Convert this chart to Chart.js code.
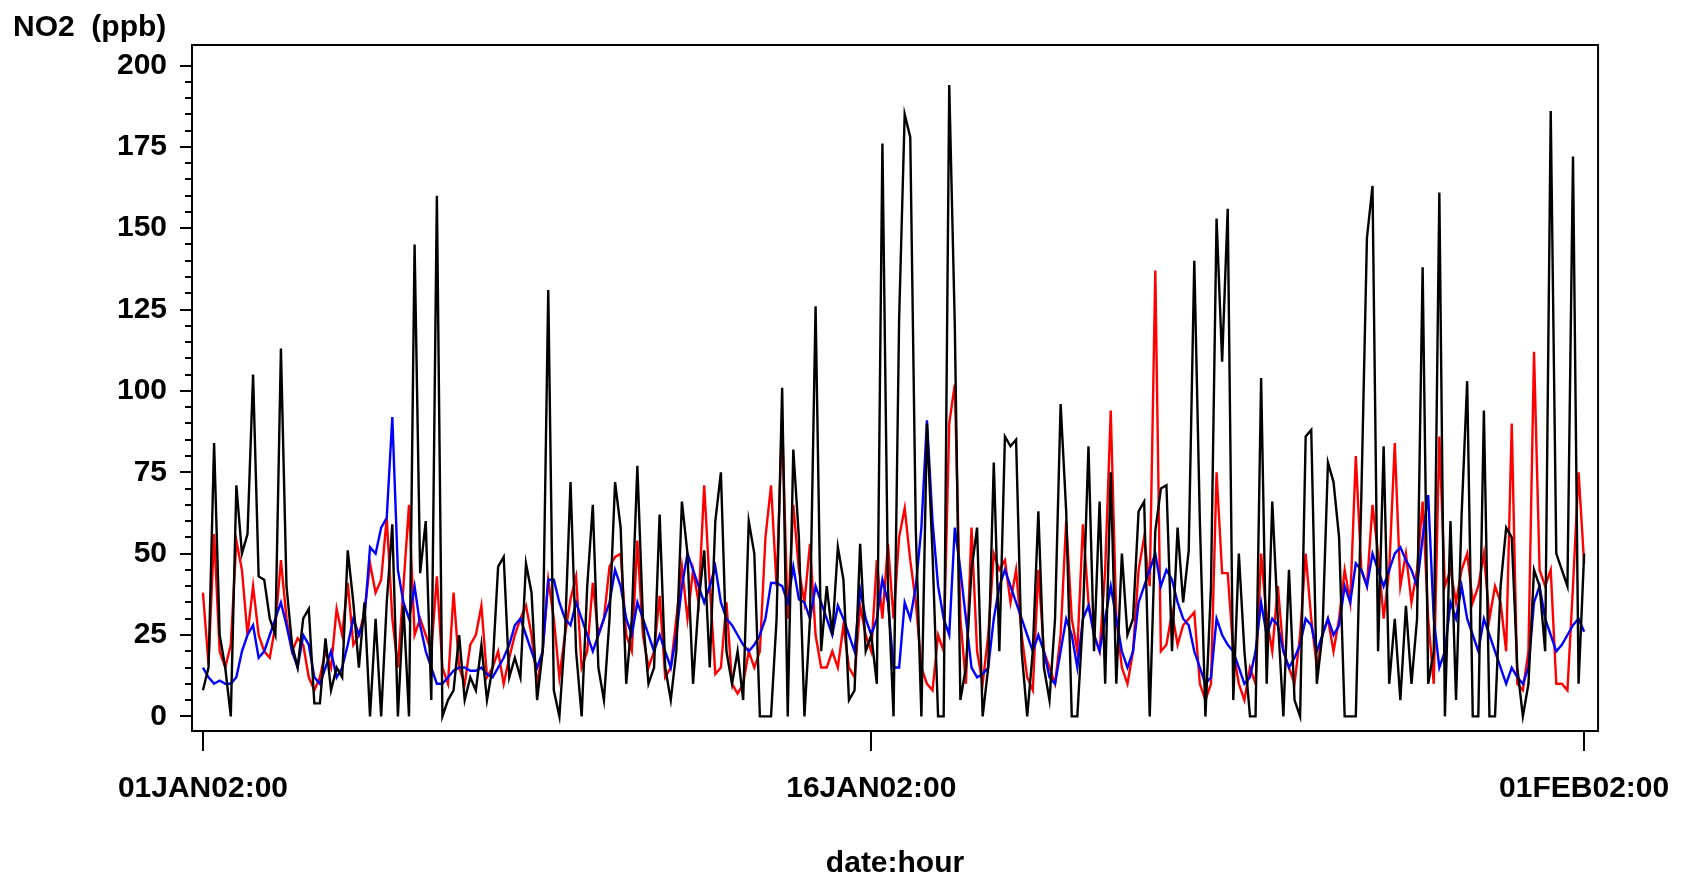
<!DOCTYPE html>
<html>
<head>
<meta charset="utf-8">
<script src="https://cdn.jsdelivr.net/npm/chart.js@4.4.1/dist/chart.umd.min.js"></script>
<style>
  html, body { margin: 0; padding: 0; background: #fff; }
  canvas { display: block; }
</style>
</head>
<body>
<canvas id="no2Chart" width="1690" height="880" style="width:1690px;height:880px"></canvas>
<script>
// hourly NO2, one value every 3 hours from 01JAN02:00
const stepHours = 3;

const blackSeries = [
  8, 15, 84, 25, 15, 0, 71, 50, 56, 105,
  43, 42, 30, 25, 113, 40, 22, 15, 30, 33,
  4, 4, 24, 8, 15, 12, 51, 35, 15, 35,
  0, 30, 0, 35, 59, 0, 34, 0, 145, 44,
  60, 5, 160, 0, 5, 8, 25, 5, 12, 8,
  22, 5, 15, 46, 49, 12, 18, 12, 47, 38,
  5, 20, 131, 8, 0, 25, 72, 20, 0, 40,
  65, 15, 5, 30, 72, 58, 10, 30, 77, 30,
  10, 15, 62, 15, 5, 20, 66, 50, 10, 35,
  51, 15, 60, 75, 20, 10, 20, 5, 60, 50,
  0, 0, 0, 30, 101, 0, 82, 55, 0, 30,
  126, 20, 40, 25, 52, 42, 5, 8, 53, 20,
  25, 10, 176, 40, 0, 122, 185, 178, 57, 0,
  90, 50, 0, 0, 194, 120, 5, 15, 45, 58,
  0, 15, 78, 20, 86, 83, 85, 20, 0, 20,
  63, 15, 5, 30, 96, 63, 0, 0, 30, 83,
  20, 66, 10, 75, 10, 50, 25, 30, 63, 66,
  0, 57, 70, 71, 20, 58, 35, 51, 140, 60,
  0, 40, 153, 109, 156, 5, 50, 20, 0, 0,
  104, 10, 66, 30, 0, 45, 5, 0, 86, 88,
  10, 25, 78, 72, 55, 0, 0, 0, 68, 147,
  163, 20, 83, 10, 30, 5, 34, 10, 30, 138,
  10, 20, 161, 0, 60, 5, 62, 103, 0, 0,
  94, 0, 0, 40, 58, 55, 15, 0, 10, 45,
  40, 20, 186, 50, 45, 40, 172, 10, 50
];

const blueSeries = [
  15, 12, 10, 11, 10, 10, 12, 20, 25, 28,
  18, 20, 25, 30, 35, 28, 20, 15, 25, 22,
  12, 10, 15, 20, 12, 15, 22, 30, 25, 30,
  52, 50, 58, 61, 92, 45, 35, 30, 40, 28,
  20, 15, 10, 10, 12, 14, 15, 15, 14, 14,
  15, 13, 12, 15, 18, 22, 28, 30, 25, 20,
  15, 20, 42, 42, 35, 30, 28, 35, 30, 25,
  20, 25, 30, 35, 45, 40, 30, 25, 35, 30,
  25, 20, 25, 20, 15, 25, 40, 50, 45, 40,
  35, 40, 46, 35, 30, 28, 25, 22, 20, 22,
  25, 30, 41, 41, 40, 35, 46, 36, 35, 30,
  40, 35, 30, 25, 34, 30, 25, 20, 39, 30,
  25, 30, 42, 35, 15, 15, 35, 30, 40, 58,
  91, 60, 40, 30, 25, 58, 45, 30, 15, 12,
  13, 15, 30, 40, 45, 40, 35, 30, 25, 20,
  25, 20, 12, 10, 20, 30, 25, 15, 30, 34,
  25, 20, 30, 40, 30, 20, 15, 20, 35, 40,
  45, 50, 40, 45, 42, 35, 30, 28, 20, 15,
  10, 12, 30, 25, 22, 20, 15, 10, 12, 20,
  35, 25, 30, 28, 20, 15, 18, 22, 30, 28,
  20, 25, 30, 25, 28, 40, 35, 47, 45, 40,
  50, 45, 40, 45, 50, 52, 48, 45, 40, 55,
  68, 30, 15, 20, 35, 30, 40, 30, 25, 20,
  30, 25, 20, 15, 10, 15, 12, 10, 15, 35,
  40, 30, 25, 20, 22, 25, 28, 30, 26
];

const redSeries = [
  38, 16, 56, 20, 15, 22, 54, 45, 25, 40,
  25, 20, 18, 28, 48, 30, 20, 24, 22, 12,
  8, 12, 20, 15, 33, 25, 41, 22, 25, 32,
  47, 38, 42, 61, 30, 15, 40, 65, 25, 30,
  25, 20, 43, 15, 10, 38, 15, 10, 22, 25,
  34, 12, 15, 20, 10, 18, 25, 30, 34, 25,
  10, 20, 42, 30, 12, 25, 36, 43, 15, 20,
  41, 25, 30, 46, 49, 50, 25, 20, 54, 25,
  15, 20, 37, 12, 15, 30, 46, 30, 45, 35,
  71, 40, 13, 15, 35, 10, 7, 10, 20, 15,
  20, 55, 71, 40, 91, 30, 65, 45, 35, 53,
  25, 15, 15, 20, 15, 28, 15, 12, 34, 25,
  20, 48, 30, 53, 30, 55, 64, 48, 35, 15,
  10, 8, 25, 20, 90, 102, 30, 10, 58, 20,
  10, 25, 50, 45, 48, 35, 45, 25, 12, 8,
  45, 20, 15, 10, 25, 60, 30, 20, 59, 35,
  25, 20, 45, 94, 30, 15, 10, 20, 45, 55,
  40, 137, 20, 22, 32, 22, 28, 30, 32, 10,
  5, 10, 75, 44, 44, 20, 10, 5, 15, 10,
  50, 30, 20, 40, 20, 15, 10, 25, 50, 30,
  15, 25, 30, 20, 30, 45, 35, 80, 45, 40,
  65, 50, 30, 45, 84, 40, 50, 35, 45, 66,
  30, 10, 86, 40, 45, 35, 45, 50, 35, 40,
  50, 30, 40, 35, 20, 90, 10, 8, 20, 112,
  45, 40, 45, 10, 10, 8, 40, 75, 47
];

const xTickHours = [0, 360, 744];
const xTickLabels = ["01JAN02:00", "16JAN02:00", "01FEB02:00"];
const yTickValues = [0, 25, 50, 75, 100, 125, 150, 175, 200];
const yMinorStep = 5;

const fontFamily = "'Liberation Sans', Arial, Helvetica, sans-serif";

function toPoints(values) {
  return values.map((v, i) => ({ x: i * stepHours, y: v }));
}

// minor ticks, the closed frame and the two axis captions
const frameAndCaptions = {
  id: "frameAndCaptions",
  afterDraw(chart) {
    const ctx = chart.ctx;
    const area = chart.chartArea;
    const y = chart.scales.y;
    ctx.save();
    ctx.strokeStyle = "#000";
    ctx.lineWidth = 2;
    ctx.beginPath();
    for (let v = 0; v <= 200; v += yMinorStep) {
      if (yTickValues.includes(v)) continue;
      const py = Math.round(y.getPixelForValue(v));
      ctx.moveTo(area.left - 7, py);
      ctx.lineTo(area.left, py);
    }
    ctx.stroke();
    ctx.strokeRect(area.left, area.top, area.right - area.left, area.bottom - area.top);

    ctx.fillStyle = "#000";
    ctx.font = "bold 30px " + fontFamily;
    ctx.textAlign = "left";
    ctx.textBaseline = "alphabetic";
    ctx.fillText("NO2  (ppb)", 13, 36);
    ctx.textAlign = "center";
    ctx.textBaseline = "middle";
    ctx.fillText("date:hour", (area.left + area.right) / 2, 864);
    ctx.restore();
  }
};

const no2Chart = new Chart(document.getElementById("no2Chart").getContext("2d"), {
  type: "line",
  data: {
    datasets: [
      {
        label: "black",
        data: toPoints(blackSeries),
        borderColor: "#000000",
      },
      {
        label: "blue",
        data: toPoints(blueSeries),
        borderColor: "#0000ff",
      },
      {
        label: "red",
        data: toPoints(redSeries),
        borderColor: "#ff0000",
      },
    ],
  },
  options: {
    responsive: false,
    animation: false,
    devicePixelRatio: 1,
    elements: {
      line: { borderWidth: 2.4, tension: 0 },
      point: { radius: 0 }
    },
    layout: {
      padding: { left: 0, right: 82, top: 45, bottom: 0 }
    },
    plugins: {
      legend: { display: false },
      title: { display: false },
      tooltip: { enabled: false }
    },
    scales: {
      x: {
        type: "linear",
        min: -5.9,
        max: 751.5,
        afterBuildTicks(scale) {
          scale.ticks = xTickHours.map(h => ({ value: h }));
        },
        afterFit(scale) {
          scale.height = 149;
        },
        ticks: {
          color: "#000",
          padding: 20,
          maxRotation: 0,
          autoSkip: false,
          font: { family: fontFamily, size: 30, weight: "bold" },
          callback: (value, index) => xTickLabels[index]
        },
        grid: {
          drawOnChartArea: false,
          tickLength: 20,
          color: "#000",
          lineWidth: 2
        },
        border: { display: true, color: "#000", width: 2 }
      },
      y: {
        min: -4.5,
        max: 206.3,
        afterBuildTicks(scale) {
          scale.ticks = yTickValues.map(v => ({ value: v }));
        },
        afterFit(scale) {
          scale.width = 192;
        },
        ticks: {
          color: "#000",
          padding: 13,
          autoSkip: false,
          font: { family: fontFamily, size: 30, weight: "bold" }
        },
        grid: {
          drawOnChartArea: false,
          tickLength: 12,
          color: "#000",
          lineWidth: 2
        },
        border: { display: true, color: "#000", width: 2 }
      }
    }
  },
  plugins: [frameAndCaptions]
});
</script>
</body>
</html>
